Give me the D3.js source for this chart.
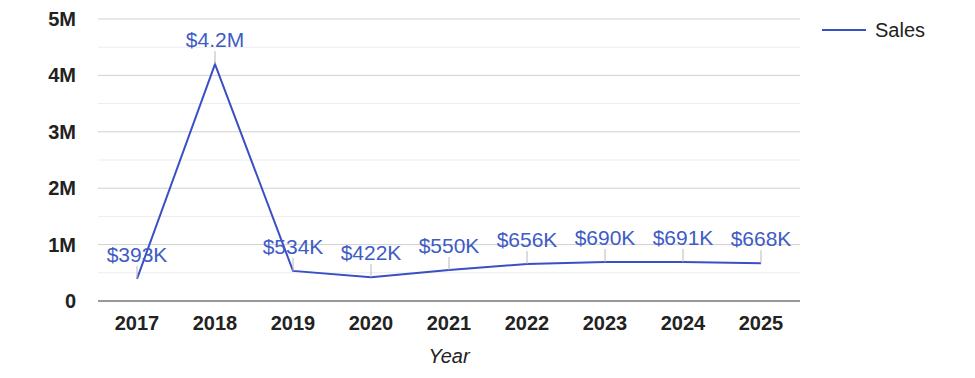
<!DOCTYPE html>
<html>
<head>
<meta charset="utf-8">
<script src="https://cdn.jsdelivr.net/npm/d3@7"></script>
<style>
  body { margin: 0; background: #fff; }
  svg { font-family: "Liberation Sans", Arial, sans-serif; }
</style>
</head>
<body>
<div id="chart"></div>
<script>
// data
const years = ["2017", "2018", "2019", "2020", "2021", "2022", "2023", "2024", "2025"];
const sales = [393000, 4200000, 534000, 422000, 550000, 656000, 690000, 691000, 668000];
const salesLabels = ["$393K", "$4.2M", "$534K", "$422K", "$550K", "$656K", "$690K", "$691K", "$668K"];
const yTicks = [0, 1000000, 2000000, 3000000, 4000000, 5000000];
const yTickLabels = ["0", "1M", "2M", "3M", "4M", "5M"];
const minorTicks = [500000, 1500000, 2500000, 3500000, 4500000];

const w = 975;
const h = 378;
const padL = 98, padR = 800, padT = 19, padB = 301;

const xScale = d3.scaleBand()
  .domain(years)
  .range([padL, padR]);

const yScale = d3.scaleLinear()
  .domain([0, 5000000])
  .range([padB, padT]);

const svg = d3.select("#chart")
  .append("svg")
  .attr("width", w)
  .attr("height", h);

// minor gridlines
svg.selectAll(".minor")
  .data(minorTicks)
  .enter()
  .append("line")
  .attr("x1", padL).attr("x2", padR)
  .attr("y1", d => yScale(d)).attr("y2", d => yScale(d))
  .attr("stroke", "#ececec");

// major gridlines
svg.selectAll(".major")
  .data(yTicks.slice(1))
  .enter()
  .append("line")
  .attr("x1", padL).attr("x2", padR)
  .attr("y1", d => yScale(d)).attr("y2", d => yScale(d))
  .attr("stroke", "#d0d0d0");

// y axis labels
const yAxis = d3.axisLeft(yScale)
  .tickValues(yTicks)
  .tickFormat((d, i) => yTickLabels[i])
  .tickSize(0)
  .tickPadding(22);

svg.append("g")
  .attr("transform", "translate(" + padL + ",0)")
  .call(yAxis)
  .call(g => g.select(".domain").remove())
  .selectAll("text")
  .attr("font-size", 20)
  .attr("font-weight", "bold")
  .attr("fill", "#222")
  .attr("font-family", "Liberation Sans, Arial, sans-serif");

// x axis
const xAxis = d3.axisBottom(xScale).tickSize(0).tickPadding(15);

svg.append("g")
  .attr("transform", "translate(0," + padB + ")")
  .call(xAxis)
  .call(g => g.select(".domain").attr("stroke", "#333").attr("d", "M" + padL + ",0H" + padR))
  .selectAll("text")
  .attr("font-size", 20)
  .attr("font-weight", "bold")
  .attr("fill", "#222")
  .attr("font-family", "Liberation Sans, Arial, sans-serif");

svg.append("text")
  .attr("x", (padL + padR) / 2)
  .attr("y", 363)
  .attr("text-anchor", "middle")
  .attr("font-size", 20)
  .attr("font-style", "italic")
  .attr("fill", "#222")
  .text("Year");

// line
const cx = d => xScale(d) + xScale.bandwidth() / 2;
const line = d3.line()
  .x((d, i) => cx(years[i]))
  .y(d => yScale(d));

svg.append("path")
  .datum(sales)
  .attr("d", line)
  .attr("fill", "none")
  .attr("stroke", "#3a4fc4")
  .attr("stroke-width", 2);

// leader ticks and value labels
svg.selectAll(".lead")
  .data(sales)
  .enter()
  .append("line")
  .attr("x1", (d, i) => cx(years[i])).attr("x2", (d, i) => cx(years[i]))
  .attr("y1", d => yScale(d)).attr("y2", d => yScale(d) - 13)
  .attr("stroke", "#b8b8b8");

svg.selectAll(".val")
  .data(sales)
  .enter()
  .append("text")
  .attr("x", (d, i) => cx(years[i]))
  .attr("y", d => yScale(d) - 17)
  .attr("text-anchor", "middle")
  .attr("font-size", 21)
  .attr("fill", "#3e5bc6")
  .text((d, i) => salesLabels[i]);

// legend
svg.append("line")
  .attr("x1", 822).attr("x2", 866)
  .attr("y1", 30).attr("y2", 30)
  .attr("stroke", "#3a4fc4")
  .attr("stroke-width", 2);

svg.append("text")
  .attr("x", 875)
  .attr("y", 37)
  .attr("font-size", 20)
  .attr("fill", "#222")
  .text("Sales");
</script>
</body>
</html>
